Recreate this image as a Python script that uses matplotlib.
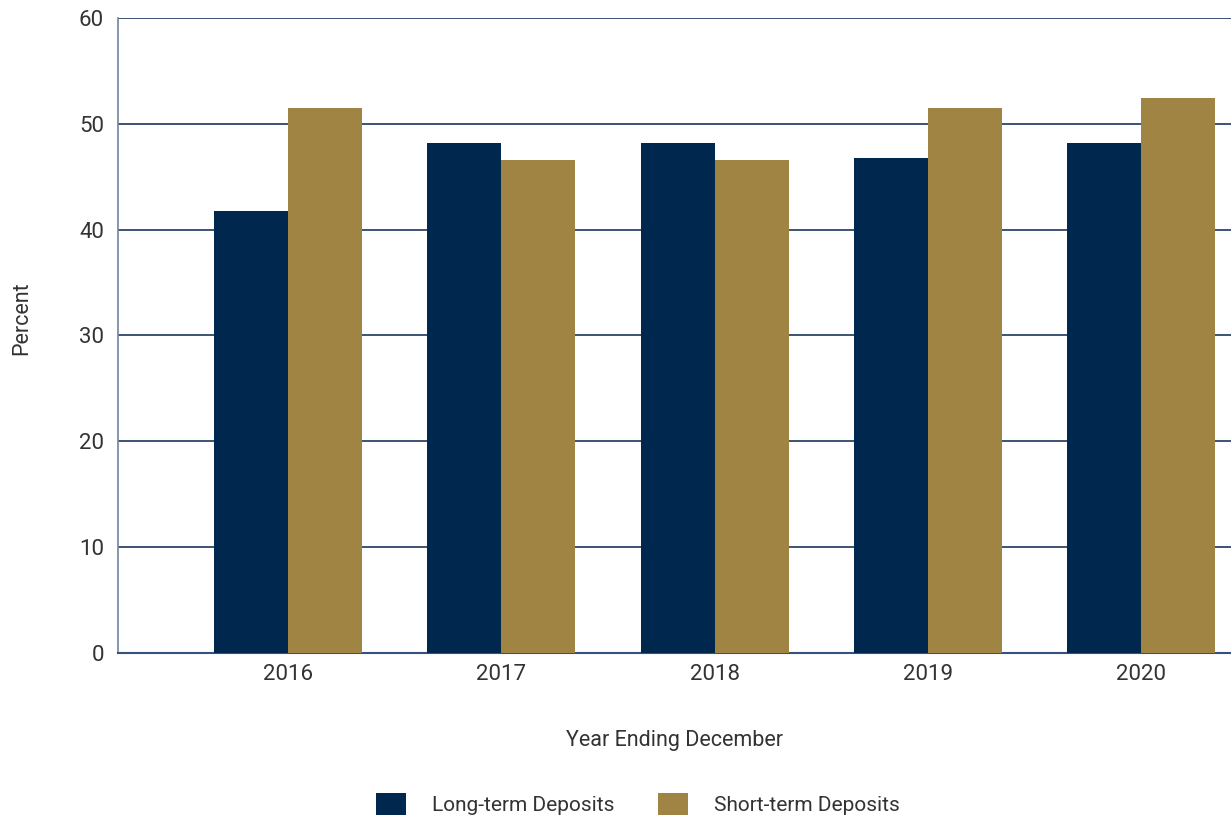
import matplotlib
matplotlib.use("Agg")
import matplotlib.pyplot as plt
import numpy as np
from matplotlib.patches import Patch

years = ["2016", "2017", "2018", "2019", "2020"]
long_term = [41.8, 48.2, 48.2, 46.8, 48.2]
short_term = [51.5, 46.6, 46.6, 51.5, 52.4]
series_names = ["Long-term Deposits", "Short-term Deposits"]

navy = "#00284f"
gold = "#a08444"
text_color = "#333333"

plt.rcParams["font.family"] = ["Roboto", "DejaVu Sans"]

fig = plt.figure(figsize=(12.31, 8.16), dpi=100)
ax = fig.add_axes([118 / 1231, 163 / 816, 1 - 118 / 1231, (653 - 18) / 816])

x = np.arange(len(years))
w = 0.347
ax.bar(x - w / 2, long_term, width=w, color=navy, zorder=3)
ax.bar(x + w / 2, short_term, width=w, color=gold, zorder=3)

ax.set_xlim(-0.797, 4.42)
ax.set_ylim(0, 60)
ax.set_yticks(range(0, 61, 10))
ax.set_xticks(x)
ax.set_xticklabels(years)

for v in range(10, 61, 10):
    ax.axhline(v, color="#1c355e", linewidth=1.2, zorder=1)

for s in ["top", "right"]:
    ax.spines[s].set_visible(False)
ax.spines["left"].set_color("#6f86a6")
ax.spines["left"].set_linewidth(1.2)
ax.spines["bottom"].set_color("#34527d")
ax.spines["bottom"].set_linewidth(1.5)

ax.tick_params(axis="y", length=0, labelsize=16, labelcolor=text_color, pad=10)
ax.tick_params(axis="x", length=0, labelsize=16, labelcolor=text_color, pad=8)

ax.set_xlabel("Year Ending December", fontsize=15.5, color=text_color,
              labelpad=32)
fig.text(22 / 1231, 1 - 318 / 816, "Percent", rotation=90, fontsize=15.5,
         color=text_color, ha="center", va="center")

handles = [Patch(facecolor=navy), Patch(facecolor=gold)]
leg = fig.legend(handles, series_names, loc="center",
                 bbox_to_anchor=(638 / 1231, 1 - 804 / 816), ncol=2,
                 frameon=False, fontsize=15, handlelength=1.45,
                 handleheight=1.25, handletextpad=1.25, columnspacing=2.1)
for t in leg.get_texts():
    t.set_color(text_color)

fig.savefig("out.png", dpi=100)
